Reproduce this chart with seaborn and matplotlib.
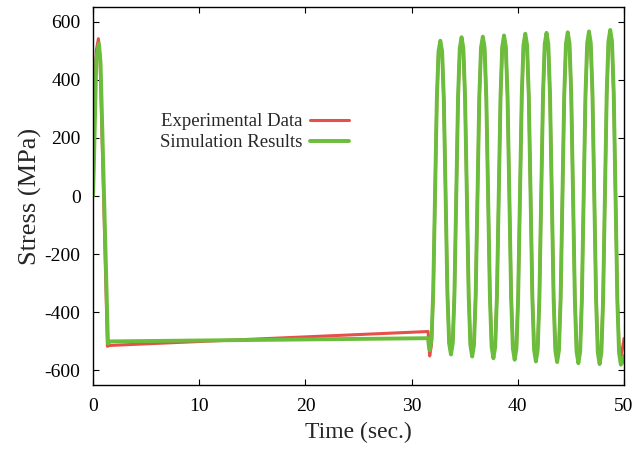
import numpy as np
import pandas as pd
import seaborn as sns
import matplotlib.pyplot as plt

# --- data ---
# first load-up, drop and slow relaxation (before cycling starts)
exp_t_pre = [0.0, 0.1, 0.3, 0.5, 0.65, 1.35, 1.5, 31.55, 31.6]
exp_s_pre = [0, 200, 500, 541, 480, -517, -514, -466, -500]
sim_t_pre = [0.0, 0.1, 0.3, 0.55, 0.7, 1.4, 1.6, 31.55, 31.6]
sim_s_pre = [0, 150, 470, 524, 460, -507, -500, -489, -510]

# cyclic part, shared time samples
cyc_t = [
    31.70, 31.87, 32.03, 32.20, 32.37, 32.53,
    32.70, 32.87, 33.03, 33.20, 33.37, 33.53,
    33.70, 33.87, 34.03, 34.20, 34.37, 34.53,
    34.70, 34.87, 35.03, 35.20, 35.37, 35.53,
    35.70, 35.87, 36.03, 36.20, 36.37, 36.53,
    36.70, 36.87, 37.03, 37.20, 37.37, 37.53,
    37.70, 37.87, 38.03, 38.20, 38.37, 38.53,
    38.70, 38.87, 39.03, 39.20, 39.37, 39.53,
    39.70, 39.87, 40.03, 40.20, 40.37, 40.53,
    40.70, 40.87, 41.03, 41.20, 41.37, 41.53,
    41.70, 41.87, 42.03, 42.20, 42.37, 42.53,
    42.70, 42.87, 43.03, 43.20, 43.37, 43.53,
    43.70, 43.87, 44.03, 44.20, 44.37, 44.53,
    44.70, 44.87, 45.03, 45.20, 45.37, 45.53,
    45.70, 45.87, 46.03, 46.20, 46.37, 46.53,
    46.70, 46.87, 47.03, 47.20, 47.37, 47.53,
    47.70, 47.87, 48.03, 48.20, 48.37, 48.53,
    48.70, 48.87, 49.03, 49.20, 49.37, 49.53,
    49.70, 49.87, 50.00,
]

exp_cyc = [
    -550, -511, -341, 0, 329, 493,
    530, 493, 329, 0, -335, -502,
    -540, -502, -335, 0, 335, 502,
    540, 502, 335, 0, -338, -507,
    -545, -507, -338, 0, 336, 504,
    542, 504, 336, 0, -340, -510,
    -548, -510, -340, 0, 338, 507,
    545, 507, 338, 0, -342, -513,
    -552, -513, -342, 0, 340, 510,
    548, 510, 340, 0, -344, -516,
    -555, -516, -344, 0, 341, 512,
    550, 512, 341, 0, -346, -519,
    -558, -519, -346, 0, 342, 513,
    552, 513, 342, 0, -347, -521,
    -560, -521, -347, 0, 342, 513,
    552, 513, 342, 0, -347, -521,
    -560, -521, -347, 0, 344, 516,
    555, 516, 344, 0, -345, -518,
    -557, -520, -490,
]

sim_cyc = [
    -530, -493, -329, 0, 331, 497,
    534, 497, 331, 0, -338, -507,
    -545, -507, -338, 0, 339, 508,
    546, 508, 339, 0, -342, -513,
    -552, -513, -342, 0, 340, 510,
    548, 510, 340, 0, -346, -519,
    -558, -519, -346, 0, 342, 513,
    552, 513, 342, 0, -349, -524,
    -563, -524, -349, 0, 346, 519,
    558, 519, 346, 0, -353, -529,
    -569, -529, -353, 0, 348, 522,
    561, 522, 348, 0, -354, -531,
    -571, -531, -354, 0, 349, 524,
    563, 524, 349, 0, -357, -535,
    -575, -535, -357, 0, 351, 526,
    566, 526, 351, 0, -358, -538,
    -578, -538, -358, 0, 354, 531,
    571, 531, 354, 0, -360, -539,
    -580, -570, -550,
]

labels = ["Experimental Data", "Simulation Results"]
colors = ["#e5504a", "#6cbd3c"]
widths = [2.2, 2.8]

df = pd.concat([
    pd.DataFrame({"t": exp_t_pre + cyc_t, "s": exp_s_pre + exp_cyc, "series": labels[0]}),
    pd.DataFrame({"t": sim_t_pre + cyc_t, "s": sim_s_pre + sim_cyc, "series": labels[1]}),
], ignore_index=True)

sns.set_style("ticks")
plt.rcParams['font.family'] = ['Liberation Serif', 'DejaVu Serif']
plt.rcParams['axes.unicode_minus'] = False

fig = plt.figure(figsize=(6.42, 4.51), dpi=100)
ax = fig.add_axes([0.145, 0.1463, 0.827, 0.8382])

sns.lineplot(data=df, x="t", y="s", hue="series", palette=colors,
             estimator=None, sort=False, ax=ax)
for line, lw in zip(ax.get_lines(), widths):
    line.set_linewidth(lw)
    line.set_solid_joinstyle("round")

ax.set_xlim(0, 50)
ax.set_ylim(-650, 650)
ax.set_xticks([0, 10, 20, 30, 40, 50])
ax.set_yticks([-600, -400, -200, 0, 200, 400, 600])
ax.tick_params(direction="in", length=4, width=0.8, top=True, right=True,
               labelsize=14, pad=9, colors="black")
for sp in ax.spines.values():
    sp.set_linewidth(1.0)
    sp.set_color("black")

ax.set_xlabel("Time (sec.)", fontsize=17, labelpad=5)
ax.set_ylabel("Stress (MPa)", fontsize=19, labelpad=2)

leg = ax.legend(loc="upper right", bbox_to_anchor=(0.497, 0.739), frameon=False,
                markerfirst=False, fontsize=13.5, handlelength=2.1,
                handletextpad=0.4, labelspacing=0.2, borderaxespad=0)
for h, lw in zip(leg.get_lines(), widths):
    h.set_linewidth(lw)

fig.savefig("out.png", dpi=100)
